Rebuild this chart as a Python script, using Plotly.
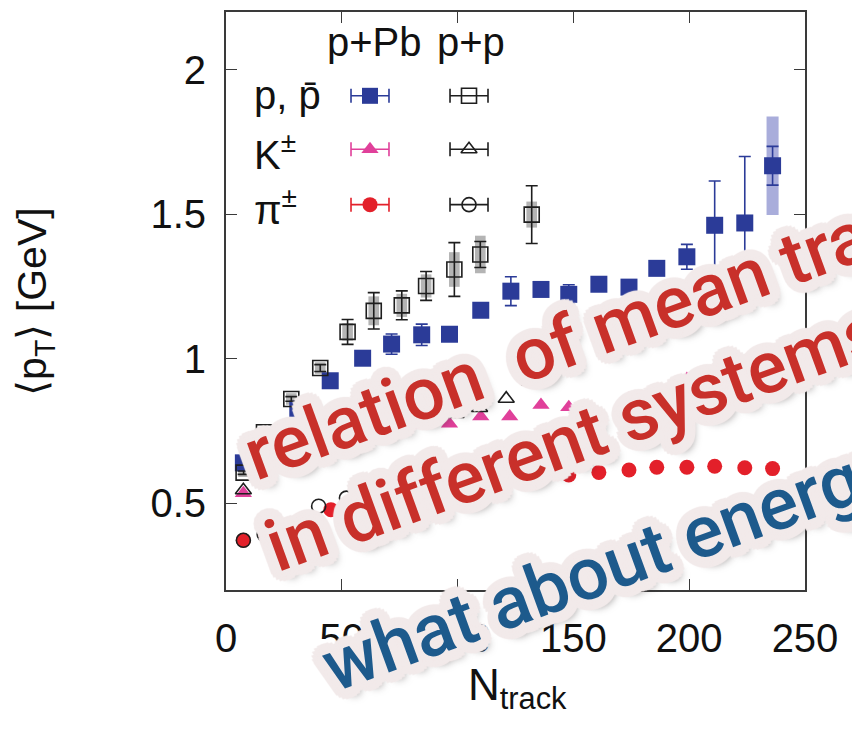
import math
import plotly.graph_objects as go

# ---- p+Pb measurements ----
pPb_p_n = [7.5, 31, 45, 59, 71.5, 84.5, 96.5, 110, 123, 136, 148, 161, 174, 186, 199, 211, 224, 236]
pPb_p = [0.64, 0.826, 0.924, 1.002, 1.051, 1.083, 1.085, 1.168, 1.234, 1.24, 1.223, 1.258,
         1.248, 1.313, 1.353, 1.462, 1.47, 1.668]
pPb_p_stat = [0.005, 0.005, 0.005, 0.01, 0.035, 0.037, 0.006, 0.006, 0.05, 0.02, 0.033, 0.006,
              0.006, 0.006, 0.043, 0.153, 0.23, 0.067]
pPb_p_sys = [0.01, 0.015, 0.02, 0.02, 0.022, 0.022, 0.022, 0.022, 0.025, 0.025, 0.025, 0.025,
             0.025, 0.025, 0.025, 0.025, 0.025, 0.17]

pPb_K_n = [7.5, 84.5, 96.5, 110, 122.5, 136, 148, 174, 199]
pPb_K = [0.535, 0.77, 0.775, 0.80, 0.80, 0.84, 0.832, 0.861, 0.93]

pPb_pi_n = [7.5, 17.3, 45.3, 136, 148, 161, 174, 186, 199, 211, 224, 236]
pPb_pi = [0.372, 0.39, 0.478, 0.588, 0.598, 0.607, 0.615, 0.625, 0.625, 0.628, 0.623, 0.62]

# ---- p+p measurements ----
pp_p_n = [7.6, 16.4, 28.2, 40.7, 52.5, 63.8, 75.9, 86.4, 98.6, 109.8, 132]
pp_p = [0.606, 0.746, 0.861, 0.968, 1.093, 1.166, 1.185, 1.252, 1.309, 1.361, 1.499]
pp_p_stat = [0.006, 0.006, 0.008, 0.012, 0.043, 0.063, 0.05, 0.05, 0.093, 0.045, 0.1]
pp_p_sys = [0.015, 0.015, 0.02, 0.02, 0.03, 0.05, 0.04, 0.04, 0.06, 0.065, 0.045]

pp_K_n = [7.5, 99.3, 109.5, 121, 131]
pp_K = [0.545, 0.809, 0.83, 0.862, 0.922]

pp_pi_n = [7.5, 16.5, 40, 52]
pp_pi = [0.372, 0.392, 0.49, 0.518]

# ---- axes ----
x_ticks = [0, 50, 100, 150, 200, 250]
y_ticks = [0.5, 1, 1.5, 2]
y_tick_text = ["0.5", "1", "1.5", "2"]

BLUE = "#2b3b98"
PINK = "#e0409a"
RED = "#e3202a"
BLACK = "#1e1e1e"
FRAME = "#3a3a3a"

fig = go.Figure()

# systematic uncertainty boxes
shapes = []
for n, v, s in zip(pPb_p_n, pPb_p, pPb_p_sys):
    shapes.append(dict(type="rect", xref="x", yref="y", layer="below",
                       x0=n - 2.6, x1=n + 2.6, y0=v - s, y1=v + s,
                       fillcolor="#a9addb", line=dict(width=0)))
for n, v, s in zip(pp_p_n, pp_p, pp_p_sys):
    shapes.append(dict(type="rect", xref="x", yref="y", layer="below",
                       x0=n - 2.3, x1=n + 2.3, y0=v - s, y1=v + s,
                       fillcolor="#b4b4b4", line=dict(width=0)))


def err(arr, color):
    return dict(type="data", array=arr, visible=True, color=color, thickness=1.6, width=6)


# p+Pb
fig.add_trace(go.Scatter(x=pPb_pi_n, y=pPb_pi, mode="markers",
                         marker=dict(symbol="circle", size=15, color=RED)))
fig.add_trace(go.Scatter(x=pPb_K_n, y=pPb_K, mode="markers",
                         marker=dict(symbol="triangle-up", size=15, color=PINK)))
fig.add_trace(go.Scatter(x=pPb_p_n, y=pPb_p, mode="markers",
                         error_y=err(pPb_p_stat, BLUE),
                         marker=dict(symbol="square", size=17, color=BLUE)))
# p+p
open_marker = dict(color="rgba(0,0,0,0)", line=dict(color=BLACK, width=1.6))
fig.add_trace(go.Scatter(x=pp_pi_n, y=pp_pi, mode="markers",
                         marker=dict(symbol="circle", size=14, **open_marker)))
fig.add_trace(go.Scatter(x=pp_K_n, y=pp_K, mode="markers",
                         marker=dict(symbol="triangle-up", size=14, **open_marker)))
fig.add_trace(go.Scatter(x=pp_p_n, y=pp_p, mode="markers",
                         error_y=err(pp_p_stat, BLACK),
                         marker=dict(symbol="square", size=15, **open_marker)))

# key samples, drawn on a hidden unit axis spanning the plot area
key_cols = [0.2487, 0.4197]
key_rows = [0.855, 0.7626, 0.6667]
key_half = 0.0328
key_styles = [
    [dict(symbol="square", size=16, color=BLUE), dict(symbol="square", size=15, **open_marker)],
    [dict(symbol="triangle-up", size=15, color=PINK), dict(symbol="triangle-up", size=14, **open_marker)],
    [dict(symbol="circle", size=15, color=RED), dict(symbol="circle", size=14, **open_marker)],
]
key_err_colors = [[BLUE, BLACK], [PINK, BLACK], [RED, BLACK]]
for r, yy in enumerate(key_rows):
    for c, xx in enumerate(key_cols):
        fig.add_trace(go.Scatter(
            x=[xx], y=[yy], xaxis="x2", yaxis="y2", mode="markers",
            marker=key_styles[r][c],
            error_x=dict(type="constant", value=key_half, color=key_err_colors[r][c],
                         thickness=1.6, width=7)))

TICKFONT = dict(family="Liberation Sans, Arial, sans-serif", size=40, color="#111")
axis_common = dict(showline=True, linecolor=FRAME, linewidth=2, mirror="allticks",
                   ticks="inside", ticklen=11, tickwidth=1.4, tickcolor=FRAME,
                   showgrid=False, zeroline=False, tickfont=TICKFONT)

fig.update_layout(
    width=852, height=732,
    margin=dict(l=226, r=47, t=10, b=142),
    paper_bgcolor="white", plot_bgcolor="white",
    showlegend=False,
    xaxis=dict(range=[0, 250], tickvals=x_ticks, ticklabelstandoff=12, **axis_common),
    yaxis=dict(range=[0.2, 2.2], tickvals=y_ticks, ticktext=y_tick_text,
               ticklabelstandoff=10, **axis_common),
    xaxis2=dict(range=[0, 1], overlaying="x", visible=False, fixedrange=True),
    yaxis2=dict(range=[0, 1], overlaying="y", visible=False, fixedrange=True),
    shapes=shapes,
)

LABEL_FONT = dict(family="Liberation Sans, Arial, sans-serif", size=38, color="#111")
annotations = [
    # key header and row labels
    dict(text="p+Pb", x=0.257, y=0.948, font=dict(LABEL_FONT, size=40), xanchor="center"),
    dict(text="p+p", x=0.424, y=0.948, font=dict(LABEL_FONT, size=40), xanchor="center"),
    dict(text="p, p\u0304", x=0.045, y=0.857, font=dict(LABEL_FONT, size=40), xanchor="left"),
    dict(text="K<sup>\u00b1</sup>", x=0.045, y=0.757, font=dict(LABEL_FONT, size=40), xanchor="left"),
    dict(text="\u03c0<sup>\u00b1</sup>", x=0.045, y=0.662, font=dict(LABEL_FONT, size=40), xanchor="left"),
    # axis titles
    dict(text="\u27e8p<sub>T</sub>\u27e9 [GeV]", x=-0.33, y=0.5, textangle=-90,
         font=dict(LABEL_FONT, size=41), xanchor="center"),
    dict(text="N<sub>track</sub>", x=0.504, y=-0.169, font=dict(LABEL_FONT, size=44),
         xanchor="center"),
]
for a in annotations:
    a.update(xref="paper", yref="paper", showarrow=False)
    a.setdefault("yanchor", "middle")


def sticker_shadow(fill):
    parts = []
    for r in (3, 6, 9, 11):
        for k in range(18):
            ang = 2 * math.pi * k / 18
            parts.append(f"{r * math.cos(ang):.1f}px {r * math.sin(ang):.1f}px 1px {fill}")
    parts.append("5px 9px 9px rgba(40,30,30,0.6)")
    return ", ".join(parts)


STICKER = "#f2eaea"
sticker_font = dict(family="Roboto, sans-serif", size=73, weight=500,
                    shadow=sticker_shadow(STICKER))
stickers = [
    ("relation  of mean transverse momentum", "#c8302a", 230, 500),
    ("in different systems", "#c8302a", 251, 592),
    ("what about energy?", "#1d5a8c", 308, 712),
]
for txt, col, px, py in stickers:
    annotations.append(dict(
        text=txt, xref="paper", yref="paper", showarrow=False,
        x=(px - 226) / 579, y=(590 - py) / 580, xanchor="left", yanchor="bottom",
        textangle=-20, font=dict(sticker_font, color=col)))

fig.update_layout(annotations=annotations)
fig.write_html("out.html")
